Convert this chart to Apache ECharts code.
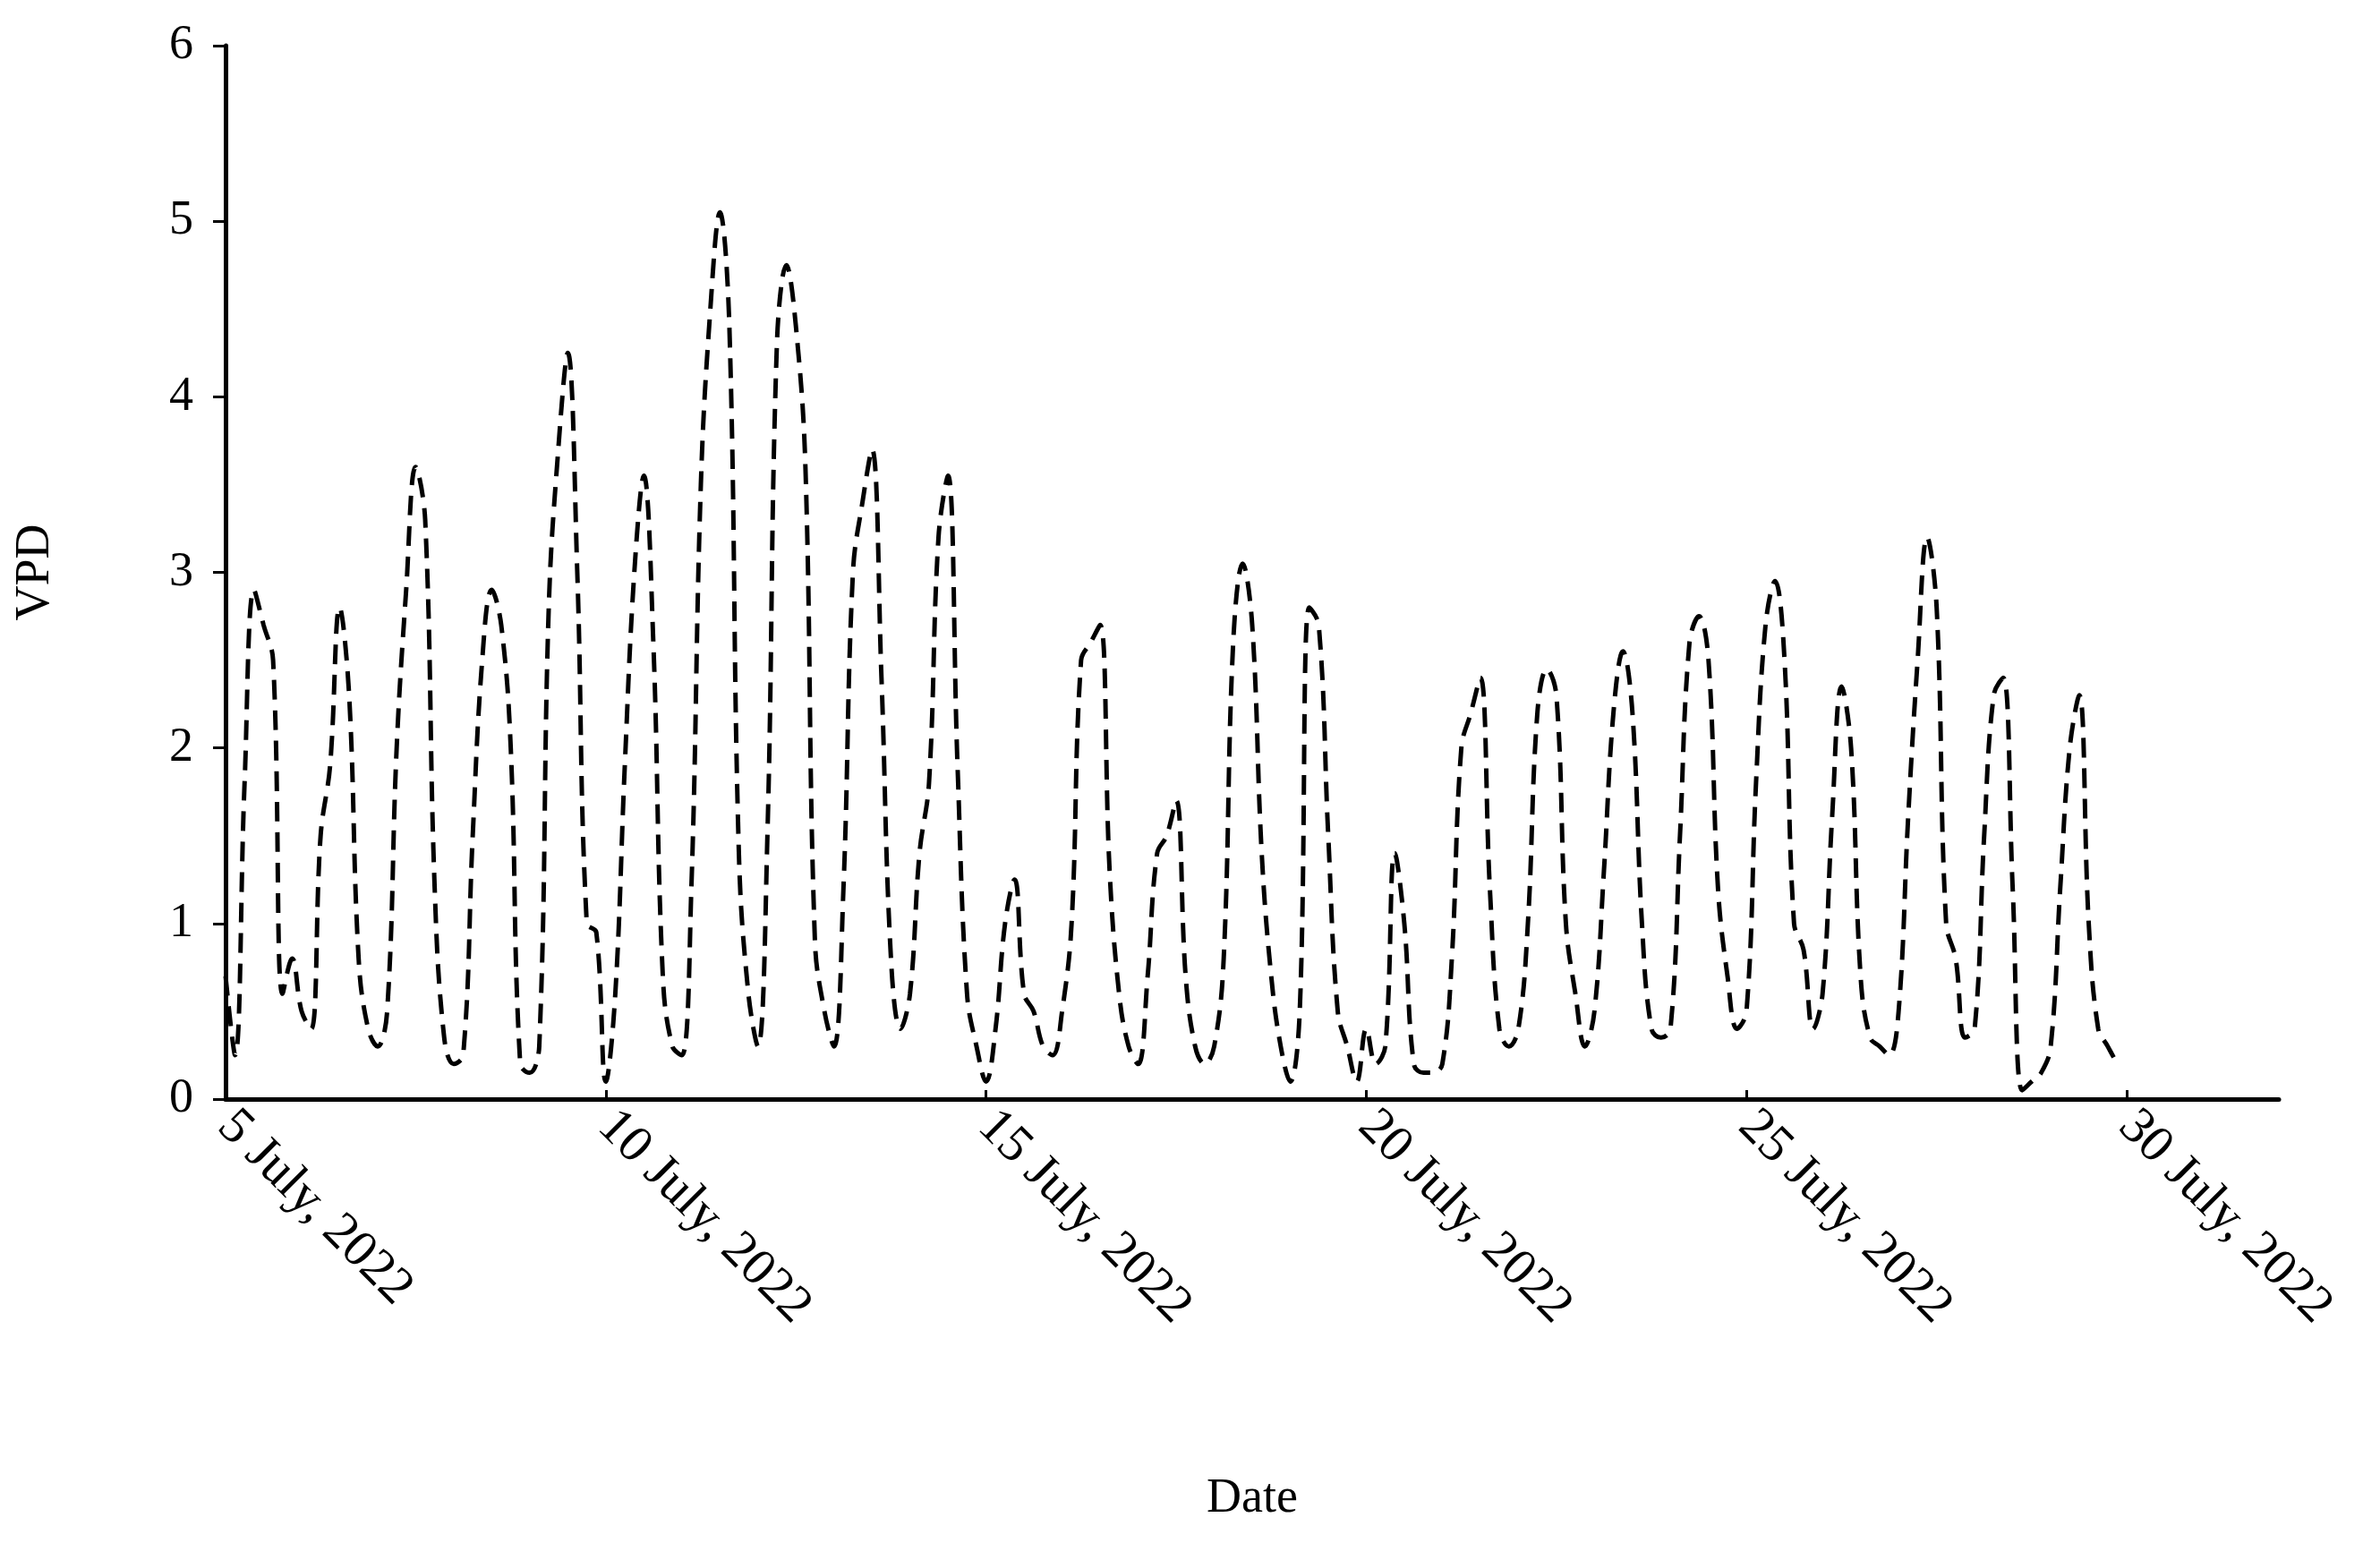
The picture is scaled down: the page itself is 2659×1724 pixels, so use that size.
<!DOCTYPE html>
<html><head><meta charset="utf-8">
<script src="https://cdn.jsdelivr.net/npm/echarts@6/dist/echarts.min.js"></script>
<style>html,body{margin:0;padding:0;background:#fff}#c{width:2659px;height:1724px}</style>
</head><body><div id="c"></div>
<script>
const startDay = 5;
const hoursOfDay = [0,3,6,9,12,15,18,21];
const vpdByDay = [
 [0.7,0.25,1.8,2.9,2.7,2.5,0.6,0.8],
 [0.5,0.4,1.5,1.9,2.8,2.3,0.8,0.4],
 [0.3,0.5,2.0,2.9,3.6,3.3,1.2,0.35],
 [0.2,0.25,1.5,2.5,2.9,2.7,2.0,0.2],
 [0.15,0.3,2.8,3.7,4.25,3.0,1.0,0.95],
 [0.1,0.6,1.9,3.0,3.55,2.6,0.7,0.3],
 [0.25,1.2,3.5,4.5,5.05,4.4,1.4,0.6],
 [0.3,1.5,4.3,4.75,4.4,3.6,0.9,0.5],
 [0.3,1.2,3.0,3.4,3.7,2.4,0.8,0.4],
 [0.6,1.4,1.8,3.2,3.55,1.9,0.6,0.3],
 [0.1,0.4,1.0,1.25,0.6,0.5,0.3,0.25],
 [0.5,1.0,2.5,2.6,2.7,1.3,0.6,0.3],
 [0.2,0.7,1.4,1.5,1.7,0.7,0.3,0.2],
 [0.3,0.8,2.6,3.05,2.7,1.4,0.7,0.3],
 [0.1,0.5,2.8,2.7,1.5,0.5,0.3,0.1],
 [0.4,0.2,0.3,1.4,1.0,0.2,0.15,0.15],
 [0.2,0.8,2.0,2.2,2.4,1.2,0.4,0.3],
 [0.4,1.0,2.2,2.45,2.3,1.0,0.6,0.3],
 [0.5,1.3,2.2,2.55,2.2,1.0,0.4,0.35],
 [0.4,1.5,2.6,2.75,2.5,1.2,0.7,0.4],
 [0.5,1.8,2.7,2.95,2.5,1.0,0.85,0.4],
 [0.6,1.6,2.35,2.0,0.7,0.35,0.3,0.25],
 [0.5,1.6,2.5,3.2,2.8,1.0,0.8,0.35],
 [0.4,1.5,2.3,2.4,1.2,0.05,0.1,0.15],
 [0.3,1.2,2.0,2.3,1.0,0.4,0.3,0.2]
];
const xTickLabels = {5:'5 July, 2022',10:'10 July, 2022',15:'15 July, 2022',20:'20 July, 2022',25:'25 July, 2022',30:'30 July, 2022'};
const yTicks = [0,1,2,3,4,5,6];

const pts = [];
vpdByDay.forEach((vals,i)=>vals.forEach((v,j)=>pts.push([startDay+i+hoursOfDay[j]/24, v])));

const font = 'Liberation Serif';
const chart = echarts.init(document.getElementById('c'));
chart.setOption({
  animation:false,
  grid:{left:252,right:113,top:51,bottom:496},
  xAxis:{type:'value',min:5,max:32,interval:5,
    axisLine:{lineStyle:{color:'#000',width:5}},
    axisTick:{show:true,inside:true,length:10,lineStyle:{color:'#000',width:3}},
    splitLine:{show:false},
    axisLabel:{rotate:-45,color:'#000',fontFamily:font,fontSize:58,margin:22,align:'left',
      formatter:v=>xTickLabels[v]||'',showMaxLabel:false},
    name:'Date',nameLocation:'middle',nameGap:420,
    nameTextStyle:{color:'#000',fontFamily:font,fontSize:54}},
  yAxis:{type:'value',min:yTicks[0],max:yTicks[yTicks.length-1],interval:1,
    axisLine:{show:true,lineStyle:{color:'#000',width:5}},
    axisTick:{show:true,length:14,lineStyle:{color:'#000',width:3}},
    splitLine:{show:false},
    axisLabel:{color:'#000',fontFamily:font,fontSize:54,margin:36},
    name:'VPD',nameLocation:'middle',nameGap:185,nameRotate:90,
    nameTextStyle:{color:'#000',fontFamily:font,fontSize:54}},
  series:[{type:'line',data:pts,smooth:0.4,showSymbol:false,
    lineStyle:{color:'#000',width:5,type:[22,12]}}]
});
</script></body></html>
